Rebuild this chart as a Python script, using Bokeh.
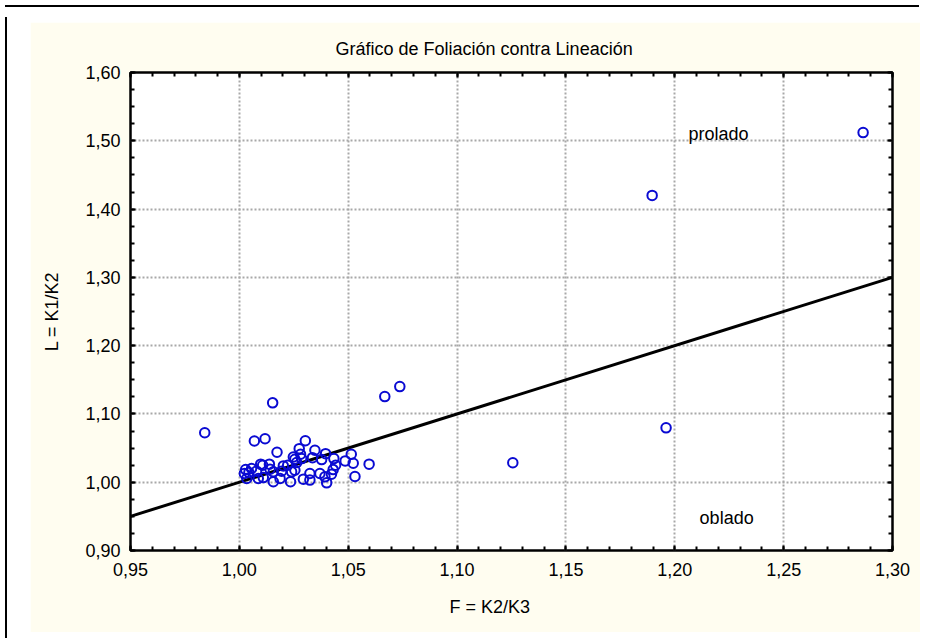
import numpy as np
from bokeh.plotting import figure
from bokeh.models import (Range1d, LinearAxis, FixedTicker, CustomJSTickFormatter,
                          Div, Spacer, Title)
from bokeh.layouts import column, row
from bokeh.embed import file_html
from bokeh.resources import INLINE
from bokeh.core.properties import value

# ---- data ----
F = [1.2865, 1.1896, 1.1960, 1.0668, 1.0737, 1.1256, 1.0596, 1.0153, 0.9841,
     1.0069, 1.0118, 1.0173, 1.0303, 1.0275, 1.0347, 1.0396, 1.0514, 1.0281,
     1.0255, 1.0434, 1.0486, 1.0523, 1.0442, 1.0378, 1.0336, 1.0263, 1.0202,
     1.0138, 1.0098, 1.0029, 1.0044, 1.0079, 1.0141, 1.0194, 1.0255, 1.0324,
     1.0370, 1.0423, 1.0531, 1.0393, 1.0401, 1.0324, 1.0294, 1.0235, 1.0187,
     1.0156, 1.0110, 1.0087, 1.0034, 1.0023, 1.0056, 1.0107, 1.0222, 1.0248,
     1.0286, 1.0240, 1.0431, 1.0156]
L = [1.5120, 1.4200, 1.0796, 1.1254, 1.1400, 1.0285, 1.0264, 1.1162, 1.0725,
     1.0603, 1.0637, 1.0439, 1.0608, 1.0491, 1.0468, 1.0418, 1.0410, 1.0410,
     1.0337, 1.0346, 1.0312, 1.0278, 1.0249, 1.0331, 1.0360, 1.0287, 1.0239,
     1.0264, 1.0264, 1.0185, 1.0141, 1.0162, 1.0191, 1.0162, 1.0176, 1.0127,
     1.0127, 1.0118, 1.0083, 1.0079, 0.9991, 1.0031, 1.0045, 1.0006, 1.0054,
     1.0006, 1.0068, 1.0054, 1.0054, 1.0127, 1.0200, 1.0249, 1.0249, 1.0370,
     1.0346, 1.0152, 1.0185, 1.0152]

ref_x = [0.95, 1.30]          # L = F reference line
ref_y = [0.95, 1.30]

x_ticks = [0.95, 1.00, 1.05, 1.10, 1.15, 1.20, 1.25, 1.30]
y_ticks = [0.90, 1.00, 1.10, 1.20, 1.30, 1.40, 1.50, 1.60]

zone_text = ["prolado", "oblado"]
zone_x = [1.2063, 1.2114]
zone_y = [1.5096, 0.9480]

title_text = "Gráfico de Foliación contra Lineación"
x_label = "F = K2/K3"
y_label = "L = K1/K2"

# ---- style ----
FONT = "Liberation Sans"
FS = "18px"
CREAM = "#FFFDF0"

x_minor = list(np.round(np.arange(x_ticks[0], x_ticks[-1] + 1e-9, 0.01), 3))
y_minor = list(np.round(np.arange(y_ticks[0], y_ticks[-1] + 1e-9, 0.025), 3))

p = figure(width=890, height=610,
           x_range=Range1d(x_ticks[0], x_ticks[-1]),
           y_range=Range1d(y_ticks[0], y_ticks[-1]),
           output_backend="svg", toolbar_location=None,
           min_border_left=100, min_border_right=28,
           min_border_top=50, min_border_bottom=81,
           background_fill_color="white", border_fill_color=CREAM,
           outline_line_color="black", outline_line_width=2.5)

p.title.text = title_text
p.title.align = "left"
p.title.offset = 205
p.title.standoff = 27
p.title.text_font = FONT
p.title.text_font_size = FS
p.title.text_font_style = "normal"
p.title.text_color = "black"

fmt = CustomJSTickFormatter(code="return tick.toFixed(2).replace('.', ',');")
blank = CustomJSTickFormatter(code="return '';")


def style_axis(ax, ticks, minor, labels=True):
    ax.ticker = FixedTicker(ticks=ticks, minor_ticks=minor)
    ax.formatter = fmt if labels else blank
    ax.axis_line_color = None
    ax.major_tick_in = 5
    ax.major_tick_out = 0
    ax.minor_tick_in = 4
    ax.minor_tick_out = 0
    ax.major_tick_line_color = "black"
    ax.minor_tick_line_color = "black"
    ax.major_tick_line_width = 2
    ax.minor_tick_line_width = 2
    ax.major_label_text_font = FONT
    ax.major_label_text_font_size = FS
    ax.major_label_text_color = "black"


style_axis(p.xaxis[0], x_ticks, x_minor)
p.xaxis[0].major_label_standoff = 12
style_axis(p.yaxis[0], y_ticks, y_minor)
p.yaxis[0].major_label_standoff = 10
p.yaxis[0].axis_label = y_label
p.yaxis[0].axis_label_text_font = FONT
p.yaxis[0].axis_label_text_font_size = FS
p.yaxis[0].axis_label_text_font_style = "normal"
p.yaxis[0].axis_label_text_color = "black"
p.yaxis[0].axis_label_standoff = 20

ax_r = LinearAxis()
style_axis(ax_r, y_ticks, y_minor, labels=False)
p.add_layout(ax_r, "right")
ax_t = LinearAxis()
style_axis(ax_t, x_ticks, x_minor, labels=False)
p.add_layout(ax_t, "above")

xlab = Title(text=x_label, align="left", offset=319, standoff=32,
             text_font=FONT, text_font_size=FS, text_font_style="normal",
             text_color="black")
p.add_layout(xlab, "below")

for g in (p.xgrid[0], p.ygrid[0]):
    g.grid_line_color = "#a8a8a8"
    g.grid_line_dash = "2 2"
    g.grid_line_width = 2

p.line(ref_x, ref_y, line_color="black", line_width=3)
p.scatter(F, L, marker="circle", size=9.5, fill_color=None,
          line_color="#0A0AD2", line_width=2)
p.text(zone_x, zone_y, text=zone_text, text_font=value(FONT),
       text_font_size=FS, text_color="black",
       text_align="left", text_baseline="middle")

top_line = Div(width=914, height=2, styles={"background-color": "black"})
left_line = Div(width=2, height=621, styles={"background-color": "black"})
layout = column(top_line,
                row(left_line, Spacer(width=18, height=621),
                    column(Spacer(width=890, height=10), p)))

open("out.html", "w").write(file_html(layout, INLINE))
